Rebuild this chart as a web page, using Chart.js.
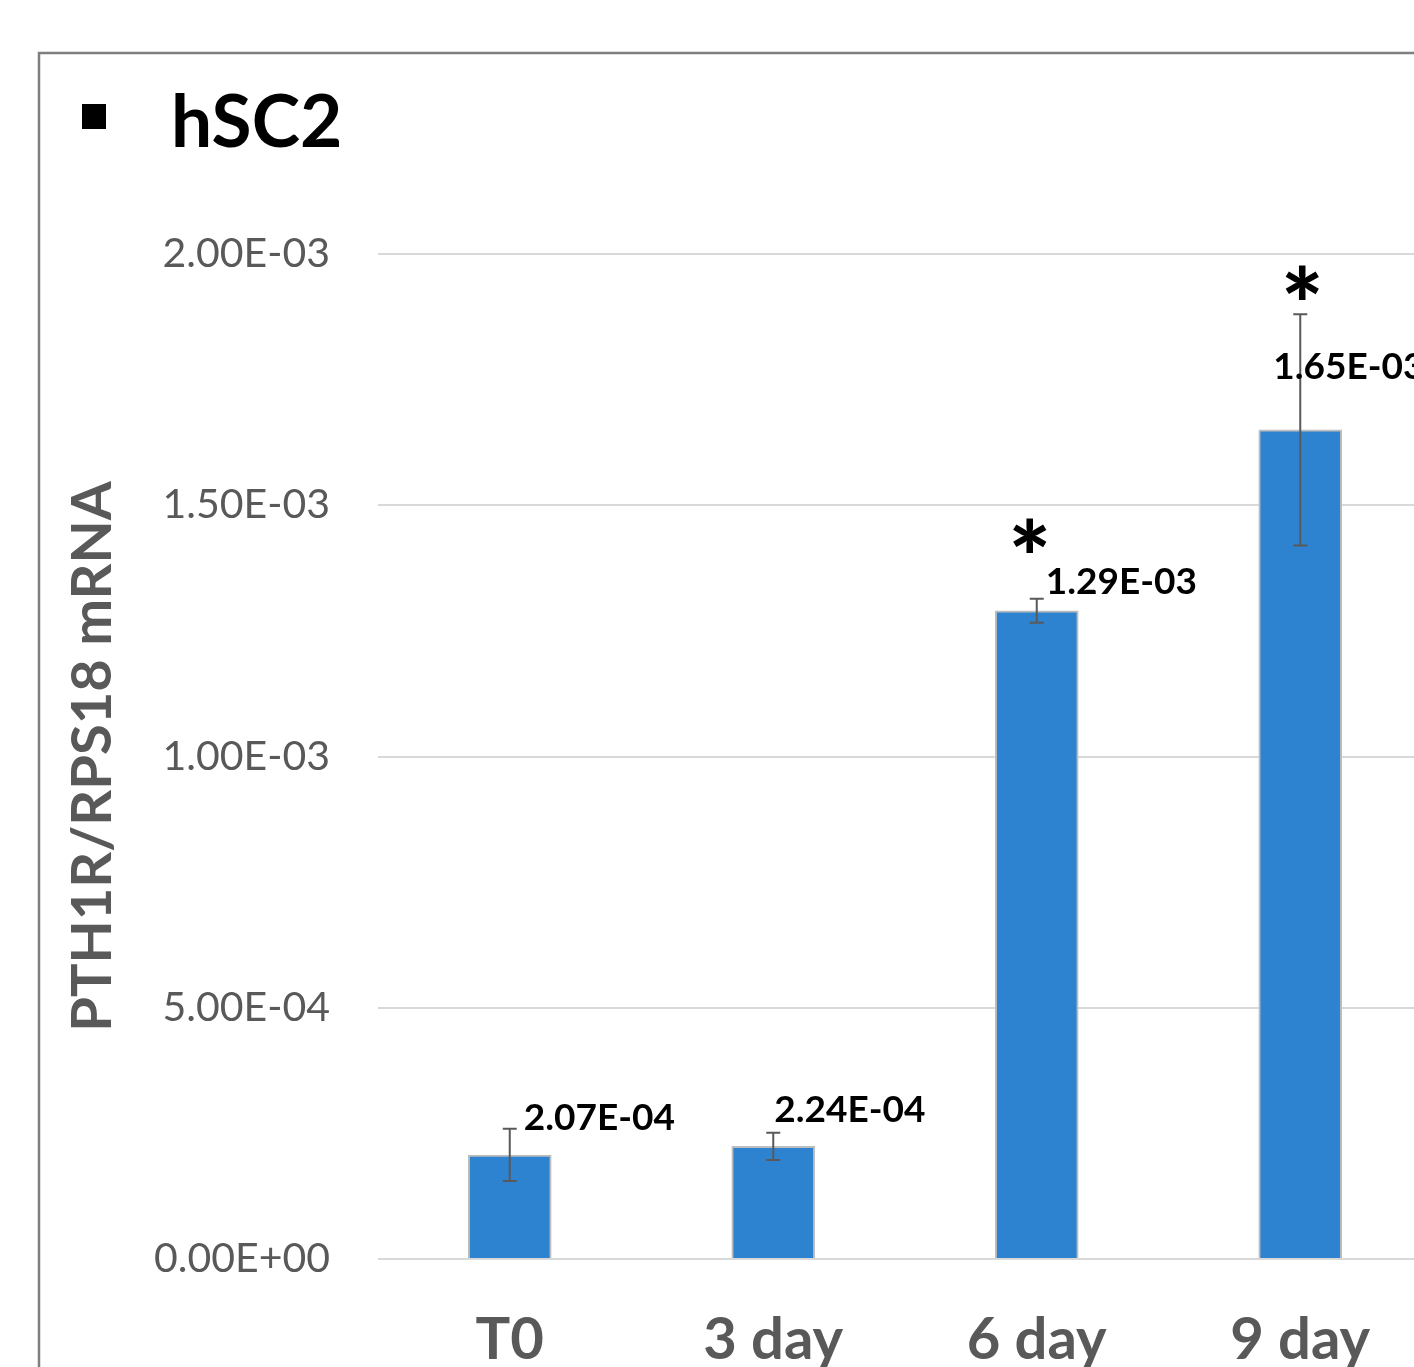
<!DOCTYPE html>
<html>
<head>
<meta charset="utf-8">
<script src="https://cdn.jsdelivr.net/npm/chart.js@4.4.1/dist/chart.umd.min.js"></script>
<style>
  html, body { margin: 0; padding: 0; background: #ffffff; overflow: hidden; }
  #frame { position: relative; width: 1414px; height: 1367px; overflow: hidden; }
  #chart { position: absolute; left: 0; top: 0; }
</style>
</head>
<body>
<div id="frame"><canvas id="chart" width="1470" height="1420"></canvas></div>
<script>
// PTH1R / RPS18 mRNA expression, hSC2, over the culture time course
const panelTitle = 'hSC2';
const yAxisTitle = 'PTH1R/RPS18 mRNA';
const categories = ['T0', '3 day', '6 day', '9 day'];
const meanValues = [2.07e-4, 2.24e-4, 1.29e-3, 1.65e-3];
const errorValues = [5.2e-5, 2.7e-5, 2.4e-5, 2.3e-4];
const significant = [false, false, true, true];
const yMin = 0;
const yMax = 2.0e-3;
const yStep = 5.0e-4;

// hand-placed offsets (px) of the value labels and the asterisks
const labelShift = [[14, -37], [1, -36], [9, -29], [-27, -63]];
const starShift = [[0, 0], [0, 0], [-7, -67], [2, -36]];

const GREY_TEXT = '#595959';
const BAR_BLUE = '#2e83d0';

function sci(v) {
  const parts = Number(v).toExponential(2).split('e');
  const e = parseInt(parts[1], 10);
  return parts[0] + 'E' + (e < 0 ? '-' : '+') + String(Math.abs(e)).padStart(2, '0');
}

const framePlugin = {
  id: 'frameAndHeading',
  beforeDraw(chart) {
    const ctx = chart.ctx;
    ctx.save();
    ctx.strokeStyle = '#7f7f7f';
    ctx.lineWidth = 2.5;
    ctx.strokeRect(39, 53, 2000, 2000);
    ctx.fillStyle = '#000000';
    ctx.fillRect(82, 104, 24, 25);
    ctx.font = 'bold 73px Lato';
    ctx.textBaseline = 'alphabetic';
    ctx.textAlign = 'left';
    ctx.fillText(panelTitle, 171, 147);
    ctx.restore();
  }
};

const annotatePlugin = {
  id: 'errorBarsAndLabels',
  afterDatasetsDraw(chart) {
    const ctx = chart.ctx;
    const y = chart.scales.y;
    const meta = chart.getDatasetMeta(0);
    ctx.save();
    meta.data.forEach((bar, i) => {
      const cx = bar.x;
      const hi = y.getPixelForValue(meanValues[i] + errorValues[i]);
      const lo = y.getPixelForValue(meanValues[i] - errorValues[i]);
      ctx.strokeStyle = '#595959';
      ctx.lineWidth = 2;
      ctx.beginPath();
      ctx.moveTo(cx, hi); ctx.lineTo(cx, lo);
      ctx.moveTo(cx - 7, hi); ctx.lineTo(cx + 7, hi);
      ctx.moveTo(cx - 7, lo); ctx.lineTo(cx + 7, lo);
      ctx.stroke();

      const top = y.getPixelForValue(meanValues[i]);
      ctx.fillStyle = '#000000';
      ctx.font = 'bold 37px Lato';
      ctx.textAlign = 'left';
      ctx.textBaseline = 'middle';
      ctx.fillText(sci(meanValues[i]), cx + labelShift[i][0], top + labelShift[i][1]);

      if (significant[i]) {
        ctx.font = '900 100px Lato';
        ctx.textAlign = 'center';
        ctx.textBaseline = 'middle';
        ctx.fillText('*', cx + starShift[i][0], hi + starShift[i][1] + 30);
      }
    });
    ctx.restore();
  }
};

new Chart(document.getElementById('chart'), {
  type: 'bar',
  data: {
    labels: categories,
    datasets: [{
      data: meanValues,
      backgroundColor: BAR_BLUE,
      borderColor: '#bdbdbd',
      borderWidth: 2,
      barThickness: 83
    }]
  },
  options: {
    responsive: false,
    devicePixelRatio: 1,
    animation: false,
    layout: { padding: { left: 40, top: 254, right: 38, bottom: 0 } },
    plugins: { legend: { display: false }, tooltip: { enabled: false } },
    scales: {
      x: {
        grid: { display: false },
        border: { display: false },
        ticks: {
          color: GREY_TEXT,
          font: { family: 'Lato', weight: 'bold', size: 58 },
          padding: 38
        },
        afterFit(s) { s.height = 161; }
      },
      y: {
        min: yMin,
        max: yMax,
        grid: { color: '#d9d9d9', lineWidth: 2, drawTicks: false },
        border: { display: false },
        ticks: {
          stepSize: yStep,
          color: GREY_TEXT,
          font: { family: 'Lato', size: 41 },
          padding: 48,
          callback: (v) => sci(v)
        },
        title: {
          display: true,
          text: yAxisTitle,
          color: GREY_TEXT,
          font: { family: 'Lato', weight: 'bold', size: 56 },
          padding: { top: 19, bottom: 0 }
        },
        afterFit(s) { s.width = 338; }
      }
    }
  },
  plugins: [framePlugin, annotatePlugin]
});
</script>
</body>
</html>
